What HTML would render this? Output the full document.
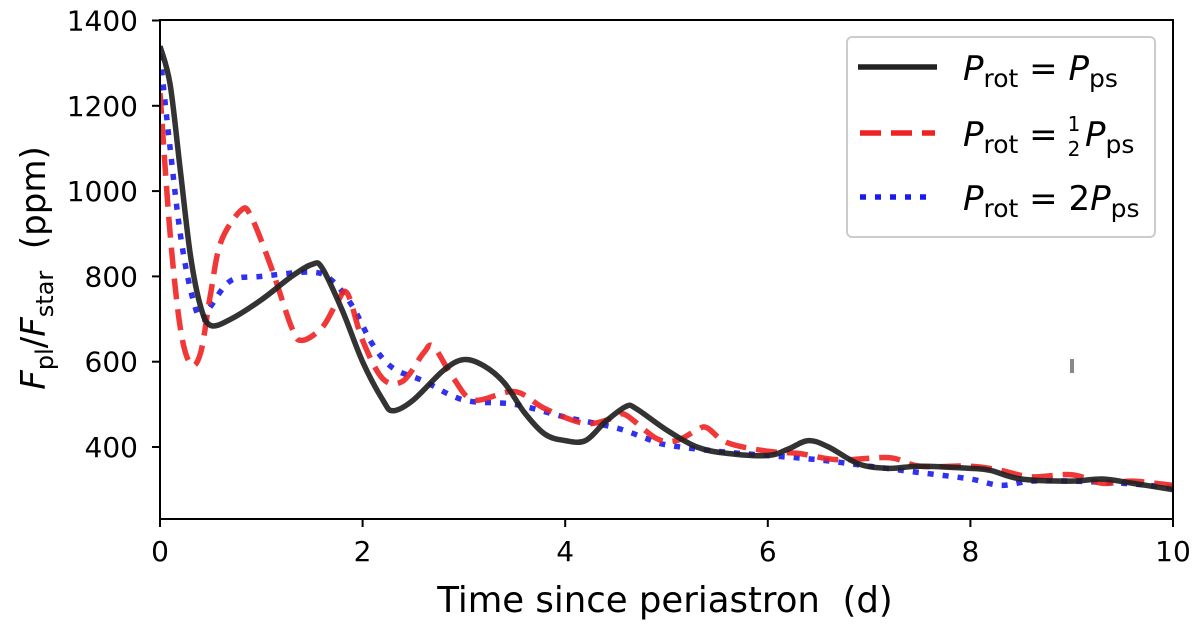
<!DOCTYPE html>
<html><head><meta charset="utf-8"><style>
body{margin:0;background:#fff;}
svg{display:block;font-family:"DejaVu Sans","Liberation Sans",sans-serif;}
</style></head><body>
<svg id="c" width="1200" height="624"></svg>
<script>
const xTicks=[0,2,4,6,8,10];
const yTicks=[400,600,800,1000,1200,1400];
const blackX=[0,0.1,0.2,0.3,0.4,0.5,0.7,1.0,1.3,1.5,1.6,1.8,2.0,2.2,2.3,2.5,2.8,3.0,3.2,3.4,3.6,3.8,4.0,4.2,4.4,4.6,4.7,5.0,5.3,5.6,6.0,6.2,6.4,6.6,6.9,7.2,7.5,8.0,8.2,8.5,9.0,9.3,9.6,10];
const blackY=[1340,1250,1050,850,730,685,700,745,800,828,820,720,600,510,485,510,580,605,590,550,480,430,415,415,460,495,490,440,400,385,380,395,415,400,360,350,355,350,345,325,320,325,315,300];
const redX=[0,0.1,0.2,0.3,0.4,0.5,0.6,0.8,0.9,1.1,1.3,1.4,1.6,1.75,1.85,2.0,2.2,2.4,2.6,2.7,2.9,3.1,3.5,3.8,4.2,4.5,4.6,4.9,5.1,5.3,5.4,5.6,6.0,6.3,6.7,7.2,7.5,8.0,8.3,8.6,9.0,9.3,9.6,10];
const redY=[1230,900,680,595,620,760,880,955,940,820,680,650,680,740,760,650,560,555,620,635,560,510,530,490,455,470,475,420,415,440,445,410,390,385,370,375,355,355,345,330,335,315,320,310];
const blueX=[0,0.1,0.2,0.3,0.4,0.5,0.7,1.0,1.5,1.7,1.9,2.1,2.3,2.6,3.0,3.5,4.0,4.5,4.8,5.0,5.5,6.0,6.5,7.0,7.5,8.0,8.3,8.6,9.0,9.5,10];
const blueY=[1320,1100,900,770,700,730,790,800,810,790,730,640,585,555,510,500,470,445,420,405,390,380,370,355,340,325,310,320,320,315,305];

const L=160,R=1173,T=20,B=519;
const sx=v=>L+(v-0)/10*(R-L);
const sy=v=>447-(v-400)*(85.3/200);
const NS="http://www.w3.org/2000/svg";
const svg=document.getElementById('c');
function mk(t,a,p){const e=document.createElementNS(NS,t);for(const k in a)e.setAttribute(k,a[k]);(p||svg).appendChild(e);return e;}
function path(xs,ys){
  const P=xs.map((x,i)=>[sx(x),sy(ys[i])]);
  let d=`M${P[0][0]},${P[0][1]}`;
  for(let i=0;i<P.length-1;i++){
    const p0=P[Math.max(0,i-1)],p1=P[i],p2=P[i+1],p3=P[Math.min(P.length-1,i+2)];
    const c1=[p1[0]+(p2[0]-p0[0])/6,p1[1]+(p2[1]-p0[1])/6];
    const c2=[p2[0]-(p3[0]-p1[0])/6,p2[1]-(p3[1]-p1[1])/6];
    d+=`C${c1[0]},${c1[1]} ${c2[0]},${c2[1]} ${p2[0]},${p2[1]}`;
  }
  return d;
}
const clip=mk('clipPath',{id:'cl'});mk('rect',{x:L,y:T,width:R-L,height:B-T},clip);
const g=mk('g',{'clip-path':'url(#cl)'});
const sb=mk('path',{d:path(blueX,blueY),fill:'none',stroke:'#1a1aee','stroke-opacity':0.9,'stroke-width':5.5,'stroke-dasharray':'6 9'},g);


const sr=mk('path',{d:path(redX,redY),fill:'none',stroke:'#ee2222','stroke-opacity':0.9,'stroke-width':5.5,'stroke-dasharray':'21 10'},g);


const sk=mk('path',{d:path(blackX,blackY),fill:'none',stroke:'#222','stroke-opacity':0.92,'stroke-width':5.5},g);


mk('rect',{x:1070,y:359,width:4,height:14,fill:'#888'});
const fr=mk('rect',{x:L,y:T,width:R-L,height:B-T,fill:'none',stroke:'#000','stroke-width':2});


xTicks.forEach(v=>{
  mk('line',{x1:sx(v),x2:sx(v),y1:B,y2:B+8,stroke:'#000','stroke-width':2});
  const t=mk('text',{x:sx(v),y:B+42,'text-anchor':'middle','font-size':28});t.textContent=v;
  
  
});
yTicks.forEach(v=>{
  mk('line',{x1:L-8,x2:L,y1:sy(v),y2:sy(v),stroke:'#000','stroke-width':2});
  const t=mk('text',{x:L-22,y:sy(v)+10,'text-anchor':'end','font-size':28});t.textContent=v;
  
  
});
</script>
<svg width="1200" height="624" style="position:absolute;left:0;top:0;font-family:'DejaVu Sans','Liberation Sans',sans-serif">
<text x="665" y="612" text-anchor="middle" font-size="35.5" xml:space="preserve">Time since periastron  (d)</text>
<text transform="translate(45,268) rotate(-90)" text-anchor="middle" font-size="34" xml:space="preserve"><tspan font-style="italic">F</tspan><tspan font-size="24" dy="8">pl</tspan><tspan dy="-8">/</tspan><tspan font-style="italic">F</tspan><tspan font-size="24" dy="8">star</tspan><tspan dy="-8">  (ppm)</tspan></text>
<g>
<rect x="847" y="37" width="308" height="200" rx="5" fill="#fff" stroke="#ccc" stroke-width="2"/>
<line x1="858" y1="67" x2="937" y2="67" stroke="#222" stroke-width="5.5"/>
<g font-size="34">
<text x="963" y="80"><tspan font-style="italic">P</tspan><tspan font-size="25" dy="7">rot</tspan><tspan dy="-7"> = </tspan><tspan font-style="italic">P</tspan><tspan font-size="25" dy="7">ps</tspan></text>
<line x1="860" y1="133" x2="935" y2="133" stroke="#ee2222" stroke-width="5.5" stroke-dasharray="21 10"/>
<text x="963" y="146"><tspan font-style="italic">P</tspan><tspan font-size="25" dy="7">rot</tspan><tspan dy="-7"> = </tspan></text>
<text x="1074" y="131" font-size="20" text-anchor="middle">1</text>
<text x="1074" y="156" font-size="20" text-anchor="middle">2</text>
<text x="1085" y="146"><tspan font-style="italic">P</tspan><tspan font-size="25" dy="7">ps</tspan></text>
<line x1="860" y1="197" x2="935" y2="197" stroke="#1a1aee" stroke-width="5.5" stroke-dasharray="6 9"/>
<text x="963" y="210"><tspan font-style="italic">P</tspan><tspan font-size="25" dy="7">rot</tspan><tspan dy="-7"> = 2</tspan><tspan font-style="italic">P</tspan><tspan font-size="25" dy="7">ps</tspan></text>
</g>
</g>
</svg>
</body></html>
